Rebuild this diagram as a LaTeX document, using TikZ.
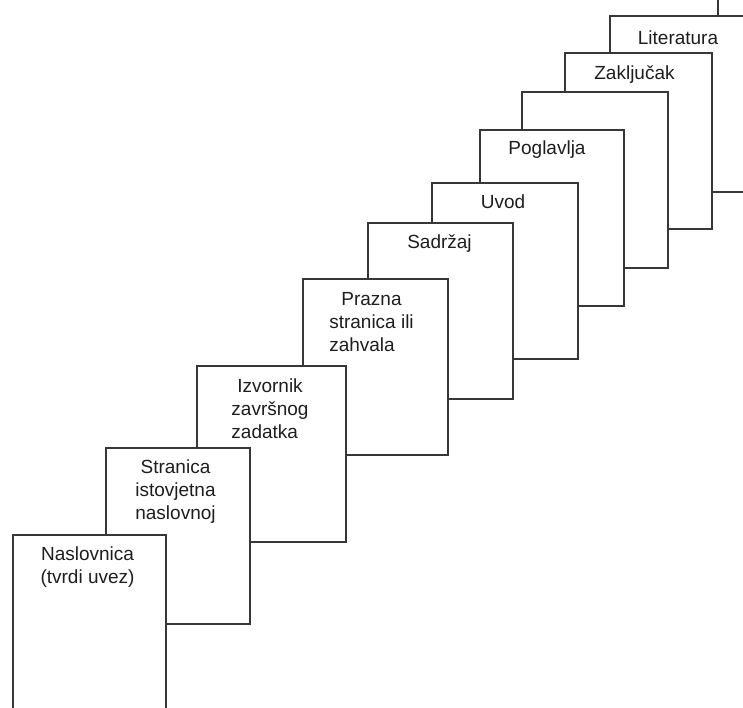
\documentclass[tikz,border=0pt]{standalone}
\usepackage{fontspec}
\setmainfont{Liberation Sans}
\definecolor{edge}{RGB}{55,55,55}
\definecolor{ink}{RGB}{30,30,30}
\tikzset{
  sheet/.style={rectangle, draw=edge, line width=1.5pt, fill=white, inner sep=0pt, outer sep=0pt,
    anchor=north west, minimum height=176pt},
  lbl/.style={anchor=base, inner sep=0pt, outer sep=0pt, text=ink, font=\fontsize{19}{23}\selectfont}
}
\begin{document}
\begin{tikzpicture}[x=1pt,y=-1pt]
\useasboundingbox (0,0) rectangle (743,707);
\clip (0,0) rectangle (743,707);
% sheets, back to front
\node[sheet, minimum width=146pt] (b11) at (718,-21) {};
\node[sheet, minimum width=146pt] (b10) at (610,16) {};
\node[sheet, minimum width=147pt] (b9) at (565,53) {};
\node[sheet, minimum width=146pt] (b8) at (522,92) {};
\node[sheet, minimum width=144pt] (b7) at (480,130) {};
\node[sheet, minimum width=146pt] (b6) at (432,183) {};
\node[sheet, minimum width=145pt] (b5) at (368,223) {};
\node[sheet, minimum width=145pt] (b4) at (303,279) {};
\node[sheet, minimum width=149pt] (b3) at (197,366) {};
\node[sheet, minimum width=144pt] (b2) at (106,448) {};
\node[sheet, minimum width=153pt] (b1) at (13,535) {};
% labels
\node[lbl] (t10) at ([xshift=-5pt,yshift=-28pt]b10.north) {Literatura};
\node[lbl] (t9) at ([xshift=-4pt,yshift=-26pt]b9.north) {Zaključak};
\node[lbl] (t7) at ([xshift=-5pt,yshift=-24pt]b7.north) {Poglavlja};
\node[lbl] (t6) at ([xshift=-2pt,yshift=-25pt]b6.north) {Uvod};
\node[lbl] (t5) at ([xshift=-1pt,yshift=-25pt]b5.north) {Sadržaj};
\node[lbl] (t4) at ([xshift=-4pt,yshift=-26pt]b4.north)
  {\begin{tabular}[t]{@{}l@{}}\multicolumn{1}{@{}c@{}}{Prazna}\\stranica ili\\zahvala\end{tabular}};
\node[lbl] (t3) at ([xshift=-1.5pt,yshift=-26pt]b3.north)
  {\begin{tabular}[t]{@{}l@{}}\multicolumn{1}{@{}c@{}}{Izvornik}\\završnog\\zadatka\end{tabular}};
\node[lbl] (t2) at ([xshift=-2.5pt,yshift=-25pt]b2.north)
  {\begin{tabular}[t]{@{}c@{}}Stranica\\istovjetna\\naslovnoj\end{tabular}};
\node[lbl] (t1) at ([xshift=-2pt,yshift=-25pt]b1.north)
  {\begin{tabular}[t]{@{}c@{}}Naslovnica\\(tvrdi uvez)\end{tabular}};
\end{tikzpicture}
\end{document}
